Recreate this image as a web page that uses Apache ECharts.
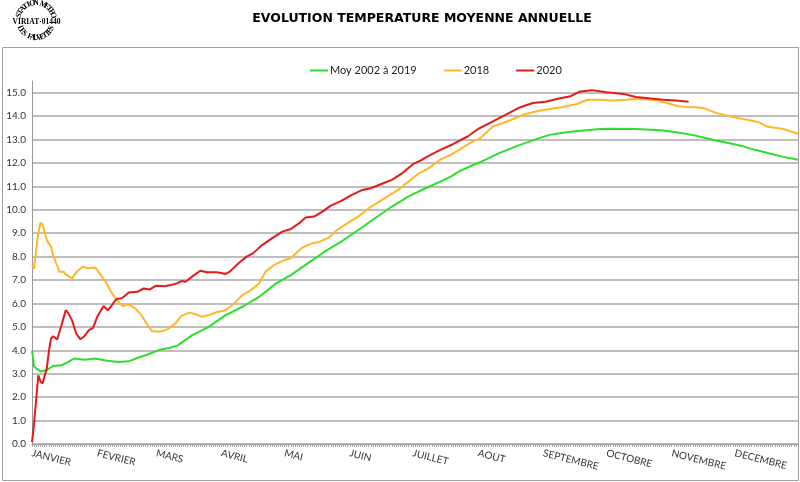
<!DOCTYPE html>
<html>
<head>
<meta charset="utf-8">
<script src="https://cdn.jsdelivr.net/npm/echarts@6/dist/echarts.min.js"></script>
<style>
html,body{margin:0;padding:0;background:#fff;}
#chart{width:800px;height:482px;}
</style>
</head>
<body>
<div id="chart"></div>
<script>
// ---- Data (day-of-year index, value) ----
const monthNames = ['JANVIER','FEVRIER','MARS','AVRIL','MAI','JUIN','JUILLET','AOUT','SEPTEMBRE','OCTOBRE','NOVEMBRE','DECEMBRE'];
const monthStarts = [0,31,59,90,120,151,181,212,243,273,304,334];
const dayCount = 365;

const seriesNames = ['Moy 2002 à 2019', '2018', '2020'];

const moyenne = [
  [0,4.0],[1,3.3],[4,3.1],[7,3.15],[10,3.33],[14,3.36],[17,3.5],[20,3.65],[25,3.6],[30,3.65],
  [35,3.57],[41,3.5],[46,3.53],[50,3.67],[55,3.82],[60,4.0],[65,4.1],[69,4.2],[76,4.64],[84,5.0],
  [92,5.5],[100,5.86],[108,6.29],[116,6.86],[123,7.21],[131,7.71],[139,8.21],[147,8.64],[155,9.14],
  [163,9.64],[171,10.14],[179,10.57],[187,10.92],[194,11.2],[199,11.42],[203,11.64],[208,11.85],
  [213,12.04],[218,12.25],[222,12.42],[230,12.71],[236,12.9],[241,13.06],[246,13.2],[251,13.27],
  [256,13.33],[262,13.39],[270,13.45],[275,13.46],[287,13.45],[294,13.42],[300,13.39],[306,13.31],
  [313,13.21],[319,13.09],[325,12.96],[332,12.83],[338,12.71],[344,12.55],[351,12.39],[357,12.26],[364,12.14]
];

const annee2018 = [
  [0,7.64],[1,7.5],[2,8.3],[3,9.0],[4,9.45],[5,9.38],[7,8.71],[8,8.55],[9,8.45],[10,8.07],[12,7.6],
  [13,7.35],[15,7.36],[16,7.24],[19,7.07],[21,7.33],[24,7.57],[27,7.5],[30,7.54],[32,7.3],[35,6.93],
  [38,6.43],[41,6.07],[43,5.89],[46,5.96],[49,5.79],[52,5.5],[55,5.07],[57,4.82],[60,4.79],[63,4.85],
  [65,4.93],[68,5.14],[71,5.47],[75,5.61],[78,5.53],[81,5.43],[85,5.53],[88,5.64],[92,5.71],[96,6.0],
  [100,6.36],[104,6.57],[108,6.86],[111,7.36],[115,7.64],[120,7.86],[123,7.93],[128,8.36],[133,8.57],
  [136,8.61],[141,8.81],[145,9.14],[150,9.43],[155,9.71],[160,10.07],[165,10.35],[169,10.57],[174,10.85],
  [179,11.21],[184,11.57],[188,11.75],[194,12.14],[199,12.35],[203,12.56],[208,12.85],[213,13.06],
  [219,13.56],[226,13.78],[234,14.08],[241,14.23],[246,14.3],[252,14.39],[259,14.52],[264,14.7],
  [270,14.7],[276,14.67],[282,14.7],[287,14.73],[292,14.72],[297,14.67],[303,14.53],[307,14.42],
  [311,14.39],[315,14.38],[319,14.35],[325,14.14],[333,13.96],[341,13.82],[345,13.75],[349,13.56],
  [353,13.5],[357,13.45],[364,13.25]
];

const annee2020 = [
  [0,0.08],[1,0.9],[3,2.93],[4,2.68],[5,2.58],[7,3.22],[8,3.93],[9,4.5],[10,4.6],[12,4.47],[14,5.07],
  [16,5.71],[17,5.62],[19,5.29],[21,4.72],[23,4.47],[25,4.61],[27,4.86],[29,4.96],[31,5.43],[34,5.89],
  [36,5.71],[38,5.93],[40,6.18],[43,6.24],[46,6.47],[50,6.5],[53,6.64],[56,6.6],[59,6.76],[63,6.74],
  [66,6.79],[69,6.86],[71,6.96],[73,6.93],[77,7.21],[80,7.4],[83,7.33],[88,7.33],[92,7.26],[94,7.36],
  [98,7.71],[102,8.0],[105,8.14],[109,8.47],[114,8.78],[119,9.07],[123,9.18],[127,9.43],[130,9.67],
  [134,9.71],[138,9.92],[142,10.18],[147,10.38],[152,10.64],[157,10.85],[161,10.92],[166,11.1],
  [171,11.28],[176,11.57],[181,11.95],[185,12.12],[188,12.28],[194,12.56],[200,12.8],[207,13.13],
  [212,13.45],[219,13.78],[225,14.05],[232,14.38],[238,14.56],[244,14.61],[251,14.76],[256,14.85],
  [260,15.04],[266,15.11],[273,15.02],[281,14.95],[287,14.82],[294,14.75],[300,14.7],[306,14.67],[312,14.61]
];

const yMin = 0, yMax = 15.5, yStep = 1;

// ---- Chart ----
const categories = [];
for (let i = 0; i < dayCount; i++) categories.push(String(i));

const colors = ['#2ddf2d', '#ffb726', '#e21a1a'];
const gridColor = '#a9a9a9';

// split line colours: one per tick 0..15 plus the max (15.5), which is hidden
const splitColors = [];
for (let v = yMin; v <= 15; v += yStep) splitColors.push(gridColor);
splitColors.push('rgba(0,0,0,0)');

// stamp logo (decoration)
function arcText(str, cx, cy, r, a0, a1, top, font) {
  const els = [];
  const n = str.length;
  for (let i = 0; i < n; i++) {
    const a = (a0 + (a1 - a0) * (n === 1 ? 0.5 : i / (n - 1))) * Math.PI / 180;
    const x = cx + r * Math.cos(a), y = cy + r * Math.sin(a);
    const rot = top ? -(a + Math.PI / 2) : -(a - Math.PI / 2);
    els.push({
      type: 'text', x: x, y: y, rotation: rot,
      style: { text: str[i], fill: '#000', font: font, align: 'center', verticalAlign: 'middle' }
    });
  }
  return els;
}
const stampFont = 'bold 8px "Liberation Serif"';
const stamp = [].concat(
  arcText('STATION METEO', 36, 21, 18, -162, -18, true, stampFont),
  arcText('LES FAUVETTES', 36, 21, 17, 155, 25, false, stampFont),
  [{ type: 'text', x: 36.5, y: 22.5, style: { text: 'VIRIAT·01440', fill: '#000', font: 'bold 7.5px "Liberation Serif"', align: 'center', verticalAlign: 'middle' } }]
);

const chart = echarts.init(document.getElementById('chart'), null, { renderer: 'canvas' });
chart.setOption({
  animation: false,
  backgroundColor: '#fff',
  title: {
    text: 'EVOLUTION TEMPERATURE MOYENNE ANNUELLE',
    left: 417, top: 7, textAlign: 'center',
    textStyle: { fontFamily: '"DejaVu Sans"', fontWeight: 'bold', fontSize: 12.5, color: '#000' }
  },
  graphic: [
    { type: 'rect', shape: { x: 2.5, y: 47.5, width: 796, height: 433 }, style: { fill: 'none', stroke: '#a0a0a0', lineWidth: 1 }, z: -1 }
  ].concat(stamp),
  legend: {
    left: 305, top: 60,
    itemWidth: 18, itemHeight: 2, itemGap: 27,
    icon: 'rect',
    textStyle: { fontFamily: 'Lato', fontSize: 11, color: '#222', padding: [0, 0, 0, -3] },
    data: seriesNames
  },
  grid: { left: 32, right: 2, top: 81, bottom: 38 },
  xAxis: {
    type: 'category',
    data: categories,
    boundaryGap: false,
    axisLine: { lineStyle: { color: '#9a9a9a', width: 1 } },
    axisTick: { show: true, interval: 0, length: 3, lineStyle: { color: '#a0a0a0' } },
    axisLabel: {
      interval: (idx) => monthStarts.indexOf(idx) >= 0,
      formatter: (v) => monthNames[monthStarts.indexOf(+v)] || '',
      rotate: -14, margin: 9,
      fontFamily: 'Lato', fontSize: 10, color: '#333'
    },
    splitLine: { show: false }
  },
  yAxis: {
    type: 'value',
    min: yMin, max: yMax, interval: yStep,
    axisLine: { show: true, lineStyle: { color: '#9a9a9a' } },
    axisTick: { show: false },
    axisLabel: {
      showMaxLabel: false,
      formatter: (v) => v.toFixed(1),
      fontFamily: 'Lato', fontSize: 10, color: '#333', margin: 6
    },
    splitLine: { show: true, lineStyle: { color: splitColors, width: 1.5 } }
  },
  series: [
    { name: seriesNames[0], type: 'line', data: moyenne, symbol: 'none', lineStyle: { width: 2, color: colors[0] }, itemStyle: { color: colors[0] }, z: 3 },
    { name: seriesNames[1], type: 'line', data: annee2018, symbol: 'none', lineStyle: { width: 2, color: colors[1] }, itemStyle: { color: colors[1] }, z: 4 },
    { name: seriesNames[2], type: 'line', data: annee2020, symbol: 'none', lineStyle: { width: 2, color: colors[2] }, itemStyle: { color: colors[2] }, z: 5 }
  ]
});
</script>
</body>
</html>
